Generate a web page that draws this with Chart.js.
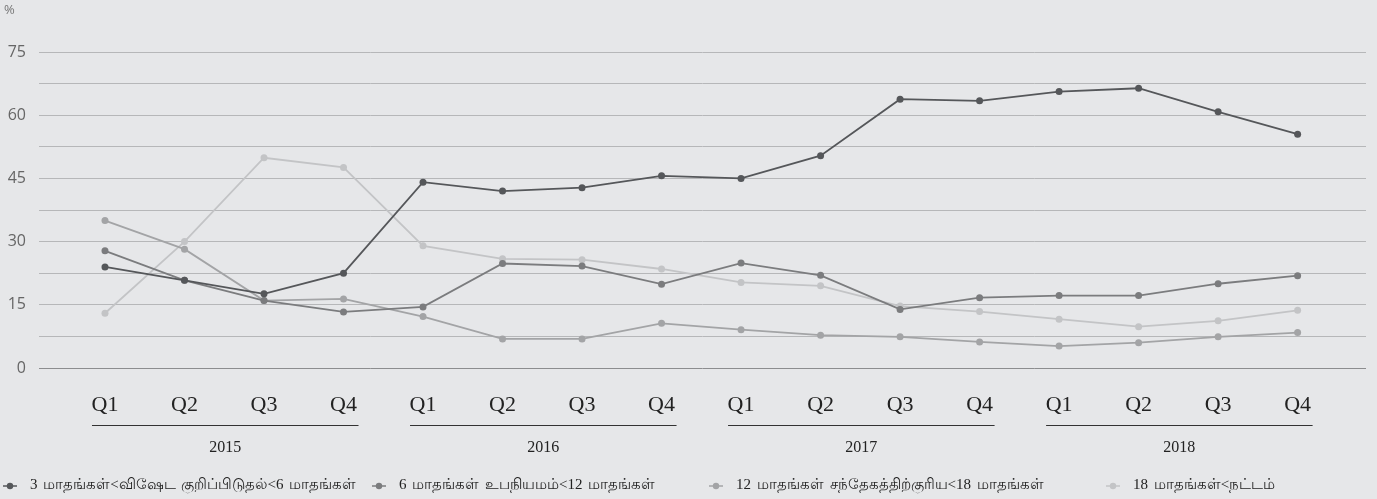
<!DOCTYPE html>
<html>
<head>
<meta charset="utf-8">
<script src="https://cdn.jsdelivr.net/npm/chart.js@4.4.1/dist/chart.umd.min.js"></script>
<style>
  html, body { margin: 0; padding: 0; background: #e6e7e9; }
  #wrap { width: 1377px; height: 499px; position: relative; }
  #legend {
    position: absolute; left: 0; top: 476px; width: 1377px; height: 20px;
    font: 15px "Liberation Serif", "DejaVu Serif", serif; color: #222;
    word-spacing: 2px;
  }
  #legend .item { position: absolute; top: 0; display: flex; align-items: center; white-space: nowrap; }
  #legend canvas { margin-right: 13px; }
</style>
</head>
<body>
<div id="wrap"><canvas id="chart"></canvas><div id="legend"></div></div>
<script>
// ஆண்டுகள் மற்றும் காலாண்டுகள்
const years = ['2015', '2016', '2017', '2018'];
const quarters = ['Q1', 'Q2', 'Q3', 'Q4'];

// தொடர் பெயர்கள்
const seriesNames = [
    '3 மாதங்கள்<விஷேட குறிப்பிடுதல்<6 மாதங்கள்',
    '6 மாதங்கள் உபநியமம்<12 மாதங்கள்',
    '12 மாதங்கள் சந்தேகத்திற்குரிய<18 மாதங்கள்',
    '18 மாதங்கள்<நட்டம்'
];

// மதிப்புகள் (%), 2015 Q1 முதல் 2018 Q4 வரை
const special = [24.0, 20.8, 17.6, 22.5, 44.1, 42.0, 42.8, 45.6, 45.0, 50.4, 63.8, 63.4, 65.6, 66.4, 60.8, 55.5];
const substandard = [27.8, 20.8, 16.0, 13.3, 14.5, 24.8, 24.2, 19.9, 24.9, 22.0, 13.9, 16.7, 17.2, 17.2, 20.0, 21.9];
const doubtful = [35.0, 28.2, 16.0, 16.4, 12.2, 6.9, 6.9, 10.6, 9.1, 7.8, 7.4, 6.2, 5.2, 6.0, 7.4, 8.4];
const loss = [13.0, 30.0, 49.9, 47.6, 29.0, 25.9, 25.7, 23.5, 20.3, 19.5, 14.7, 13.4, 11.6, 9.8, 11.2, 13.7];

const seriesValues = [special, substandard, doubtful, loss];
const seriesColors = ['#55575a', '#7b7c7e', '#a3a4a6', '#c3c4c6'];

// legend item left edges (px)
const legendLeft = [3, 372, 709, 1106];

// Legend marker: line with a dot
function makeMarker(color) {
    const c = document.createElement('canvas');
    c.width = 14;
    c.height = 10;
    const g = c.getContext('2d');
    g.strokeStyle = color;
    g.lineWidth = 1.5;
    g.beginPath();
    g.moveTo(0, 5);
    g.lineTo(14, 5);
    g.stroke();
    g.fillStyle = color;
    g.beginPath();
    g.arc(7, 5, 3.2, 0, Math.PI * 2);
    g.fill();
    return c;
}

// HTML legend
const legendEl = document.getElementById('legend');
seriesNames.forEach((name, i) => {
    const item = document.createElement('div');
    item.className = 'item';
    item.style.left = legendLeft[i] + 'px';
    item.appendChild(makeMarker(seriesColors[i]));
    const span = document.createElement('span');
    span.textContent = name;
    item.appendChild(span);
    legendEl.appendChild(item);
});

// Year group labels below the quarter ticks
const yearGroups = {
    id: 'yearGroups',
    afterDraw(chart) {
        const { ctx, chartArea, scales } = chart;
        const x = scales.x;
        ctx.save();
        ctx.strokeStyle = '#333';
        ctx.lineWidth = 1;
        ctx.fillStyle = '#222';
        ctx.font = '16px "Liberation Serif", "DejaVu Serif", serif';
        ctx.textAlign = 'center';
        ctx.textBaseline = 'middle';
        years.forEach((yr, k) => {
            const x1 = x.getPixelForValue(k * 4) - 13;
            const x2 = x.getPixelForValue(k * 4 + 3) + 15;
            const ly = Math.round(chartArea.bottom + 57) + 0.5;
            ctx.beginPath();
            ctx.moveTo(x1, ly);
            ctx.lineTo(x2, ly);
            ctx.stroke();
            ctx.fillText(yr, (x1 + x2) / 2, chartArea.bottom + 80);
        });
        ctx.restore();
    }
};

// Percent sign at top-left
const percentSign = {
    id: 'percentSign',
    afterDraw(chart) {
        const ctx = chart.ctx;
        ctx.save();
        ctx.fillStyle = '#777';
        ctx.font = '13px "Open Sans", sans-serif';
        ctx.textBaseline = 'middle';
        ctx.fillText('%', 4, 10);
        ctx.restore();
    }
};

const ctx = document.getElementById('chart');
new Chart(ctx, {
    type: 'line',
    data: {
        datasets: seriesValues.map((vals, i) => ({
            label: seriesNames[i],
            data: vals.map((v, j) => ({ x: j, y: v })),
            borderColor: seriesColors[i],
            backgroundColor: seriesColors[i],
            pointBackgroundColor: seriesColors[i],
            pointBorderWidth: 0,
            pointRadius: 3.5,
            borderWidth: 1.8,
            tension: 0
        }))
    },
    options: {
        responsive: true,
        maintainAspectRatio: false,
        animation: false,
        layout: {
            padding: { top: 52, left: 0, right: 11, bottom: 39 }
        },
        plugins: {
            tooltip: { enabled: false },
            legend: { display: false }
        },
        scales: {
            x: {
                type: 'linear',
                min: -0.83,
                max: 15.86,
                afterBuildTicks(scale) {
                    scale.ticks = special.map((_, i) => ({ value: i }));
                },
                afterFit(scale) {
                    scale.height = 92;
                },
                grid: { display: false },
                border: { display: false },
                ticks: {
                    autoSkip: false,
                    maxRotation: 0,
                    padding: 16,
                    color: '#222',
                    font: { family: '"Liberation Serif", "DejaVu Serif", serif', size: 22 },
                    callback: (v) => quarters[v % 4]
                }
            },
            y: {
                min: 0,
                max: 75,
                border: { display: false },
                afterFit(scale) {
                    scale.width = 39;
                },
                grid: {
                    drawTicks: false,
                    lineWidth: 1,
                    color: (c) => c.tick.value === 0 ? '#8c8d8f' : '#b6b7b9'
                },
                ticks: {
                    stepSize: 7.5,
                    padding: 13,
                    color: '#666',
                    font: { family: '"Open Sans", sans-serif', size: 16 },
                    callback: (v) => (v % 15 === 0 ? v : '')
                }
            }
        }
    },
    plugins: [yearGroups, percentSign]
});
</script>
</body>
</html>
